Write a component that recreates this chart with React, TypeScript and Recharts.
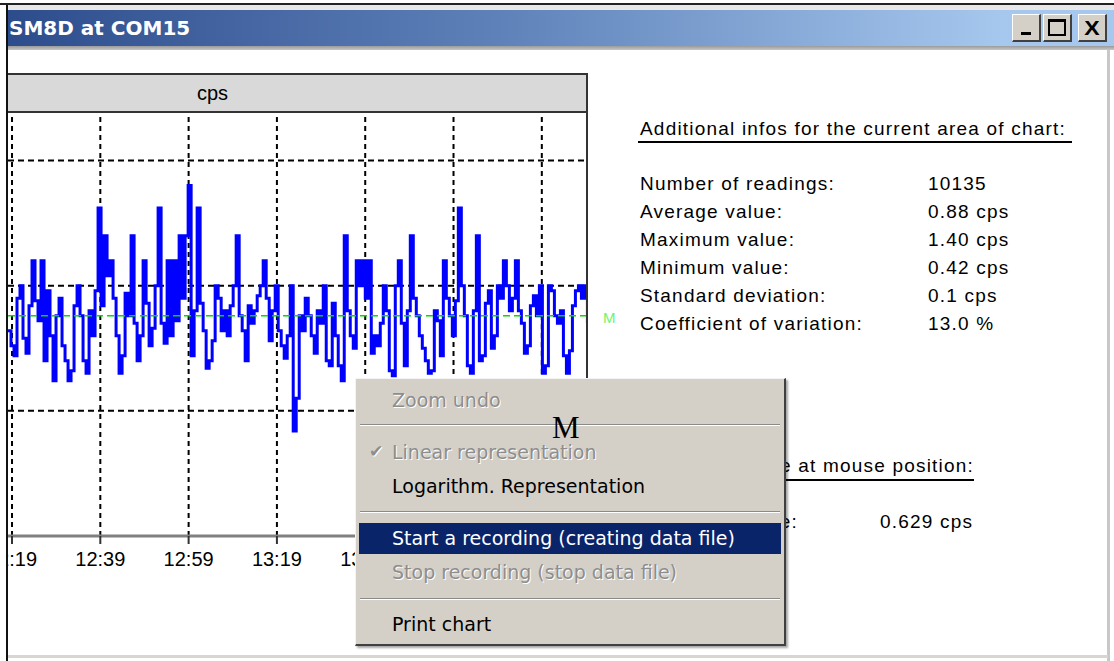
import React from "react";
import { LineChart, Line, XAxis, YAxis, ReferenceLine } from "recharts";

// readings (cps) left to right, one every ~0.68 min
const readingsA = [0.82, 0.76, 0.72, 0.95, 1.0, 0.79, 0.73, 0.92, 1.1, 0.94, 0.86, 1.1, 0.7, 0.98, 0.8, 0.62, 0.88, 0.95, 0.76, 0.7, 0.62, 0.66, 0.92, 1.0, 0.88, 0.7, 0.65, 0.9, 0.8, 0.98, 1.31, 0.92, 1.2, 1.04, 1.1, 0.95, 0.8, 0.65, 0.72, 0.97, 0.88, 1.2, 0.85, 0.7, 0.8, 1.1, 0.93, 0.76, 0.83, 1.0];
const readingsB = [1.31, 0.85, 0.77, 1.1, 0.8, 1.1, 0.86, 1.2, 0.95, 1.2, 1.4, 0.72, 0.9, 1.31, 0.93, 0.82, 0.67, 0.7, 0.78, 1.0, 0.95, 0.82, 0.9, 0.8, 0.92, 1.0, 1.2, 0.88, 0.82, 0.7, 0.92, 0.85, 0.9, 0.96, 1.0, 1.1, 0.95, 0.78, 0.9, 1.0, 0.82, 0.76, 0.71, 0.8, 1.0, 0.42, 0.55, 0.88, 0.82];
const readingsC = [0.95, 0.88, 0.8, 0.73, 0.9, 0.85, 1.0, 0.7, 0.68, 0.93, 0.8, 0.68, 0.62, 1.2, 0.9, 0.8, 0.75, 1.1, 1.0, 1.1, 0.95, 1.1, 0.73, 0.8, 0.76, 0.85, 1.0, 0.9, 0.66, 0.64, 1.0, 1.1, 0.85, 0.68, 0.9, 1.2, 0.95, 0.88, 0.8, 0.75, 0.7, 0.65, 0.66, 0.9, 0.86, 0.72, 1.1, 0.95, 0.88];
const readingsD = [0.8, 0.94, 1.31, 1.0, 0.88, 0.68, 0.65, 0.9, 1.2, 0.7, 0.72, 0.93, 0.98, 0.75, 0.8, 1.0, 0.95, 1.1, 1.0, 0.9, 0.95, 1.1, 0.9, 0.85, 0.73, 0.76, 0.92, 0.96, 0.88, 1.0, 0.65, 0.68, 1.0, 0.98, 0.88, 0.85, 0.9, 0.72, 0.65, 0.74, 0.92, 0.98, 1.0, 0.95, 1.0, 0.85];

const readingStart = 18.09; // minutes after 12:00
const readingStep = 0.68;
const meanValue = 0.88;

const timeTicks = [19, 39, 59, 79, 99, 119, 139];
const tickLabels = ["12:19", "12:39", "12:59", "13:19", "13:39", "13:59", "14:19"];
const gridValues = [0.5, 1.0, 1.5];

const infoLabels = ["Number of readings:", "Average value:", "Maximum value:", "Minimum value:", "Standard deviation:", "Coefficient of variation:"];
const infoValues = ["10135", "0.88 cps", "1.40 cps", "0.42 cps", "0.1 cps", "13.0 %"];

const allReadings = [...readingsA, ...readingsB, ...readingsC, ...readingsD];
const chartData = allReadings.map((v, i) => ({ t: readingStart + i * readingStep, cps: v }));

const sans = "'Liberation Sans', Arial, sans-serif";
const menuFont = "'DejaVu Sans', Tahoma, sans-serif";

const abs = (s: React.CSSProperties): React.CSSProperties => ({ position: "absolute", ...s });

const panelText: React.CSSProperties = { fontSize: 19, letterSpacing: 1.2, color: "#000", whiteSpace: "nowrap", lineHeight: "22px" };

const MenuItem = ({ y, text, disabled }: { y: number; text: string; disabled?: boolean }) => (
  <div
    style={abs({
      left: 36,
      top: y - 12,
      fontFamily: menuFont,
      fontSize: 19,
      lineHeight: "24px",
      color: disabled ? "#8d8d8d" : "#000",
      textShadow: disabled ? "1px 1px 0 #fff" : "none",
      whiteSpace: "nowrap",
    })}
  >
    {text}
  </div>
);

const Separator = ({ y }: { y: number }) => (
  <div style={abs({ left: 4, right: 4, top: y, height: 1, background: "#8a8a8a", borderBottom: "1px solid #fff" })} />
);

const WinButton = ({ left, children }: { left: number; children: React.ReactNode }) => (
  <div
    style={abs({
      left,
      top: 14,
      width: 29,
      height: 28,
      background: "#d4d0c8",
      borderTop: "1px solid #fff",
      borderLeft: "1px solid #fff",
      borderRight: "2px solid #404040",
      borderBottom: "2px solid #404040",
      boxSizing: "border-box",
      display: "flex",
      alignItems: "center",
      justifyContent: "center",
      fontFamily: sans,
      fontSize: 21,
      color: "#000",
    })}
  >
    {children}
  </div>
);

export default function App() {
  const y0 = 113;
  return (
    <div style={abs({ left: 0, top: 0, width: 1114, height: 661, background: "#fff", overflow: "hidden", fontFamily: sans })}>
      {/* window frame */}
      <div style={abs({ left: 0, top: 3, width: 1114, height: 2, background: "#222" })} />
      <div style={abs({ left: 8, top: 5, width: 1106, height: 5, background: "#e8e8e8" })} />
      <div
        style={abs({
          left: 8,
          top: 10,
          width: 1106,
          height: 36,
          background: "linear-gradient(to right, #2d4c8c 0%, #5f82ba 45%, #a6c8ee 90%)",
        })}
      />
      <div style={abs({ left: 9, top: 16, color: "#fff", fontFamily: "'DejaVu Sans', sans-serif", fontWeight: "bold", fontSize: 20 })}>
        SM8D at COM15
      </div>
      <WinButton left={1012}>
        <div style={{ width: 10, height: 3, background: "#000", marginTop: 12 }} />
      </WinButton>
      <WinButton left={1043}>
        <div style={{ width: 14, height: 12, border: "2px solid #000", borderTopWidth: 3 }} />
      </WinButton>
      <WinButton left={1078}>
        <span style={{ fontWeight: "bold", transform: "scaleX(1.1)" }}>X</span>
      </WinButton>
      <div style={abs({ left: 8, top: 46, width: 1106, height: 4, background: "linear-gradient(#9a9a9a, #c8c8c8)" })} />
      <div style={abs({ left: 1107, top: 50, width: 3, height: 611, background: "#c8c8c8" })} />
      <div style={abs({ left: 8, top: 655, width: 1100, height: 3, background: "#d8d6d0" })} />

      {/* chart header */}
      <div
        style={abs({
          left: 8,
          top: 73,
          width: 580,
          height: 40,
          background: "#d9d9d9",
          borderTop: "2px solid #333",
          borderBottom: "2px solid #333",
          boxSizing: "border-box",
        })}
      />
      <div style={abs({ left: 197, top: 82, fontSize: 20, color: "#000" })}>cps</div>

      <div style={abs({ left: 8, top: y0 })}>
        <LineChart width={580} height={462} data={chartData} margin={{ top: 0, right: 0, left: 0, bottom: 0 }}>
          <XAxis
            dataKey="t"
            type="number"
            domain={[18.09, 149.46]}
            ticks={timeTicks}
            tickFormatter={(v: number) => tickLabels[timeTicks.indexOf(v)]}
            height={39}
            axisLine={{ stroke: "#808080", strokeWidth: 3 }}
            tickLine={{ stroke: "#333", strokeWidth: 2 }}
            tickSize={8}
            tickMargin={8}
            tick={{ fill: "#000", fontSize: 20, fontFamily: sans }}
            interval={0}
            allowDataOverflow
          />
          <YAxis hide type="number" domain={[0, 1.69]} allowDataOverflow />
          {timeTicks.map((t) => (
            <ReferenceLine key={"v" + t} x={t} stroke="#000" strokeWidth={2} strokeDasharray="5 4" />
          ))}
          {gridValues.map((g) => (
            <ReferenceLine key={"h" + g} y={g} stroke="#000" strokeWidth={2} strokeDasharray="6 4" />
          ))}
          <Line
            type="stepAfter"
            dataKey="cps"
            stroke="#0000ff"
            strokeWidth={3}
            dot={false}
            isAnimationActive={false}
          />
          <ReferenceLine y={meanValue} stroke="#00dd00" strokeWidth={1.5} strokeDasharray="7 4" />
        </LineChart>
      </div>
      <div style={abs({ left: 586, top: 73, width: 2, height: 463, background: "#333" })} />
      <div style={abs({ left: 603, top: 309, fontSize: 15, color: "#6cf56c" })}>M</div>

      {/* left frame edge */}
      <div style={abs({ left: 0, top: 5, width: 6, height: 656, background: "#fff" })} />
      <div style={abs({ left: 6, top: 5, width: 2, height: 656, background: "#111" })} />

      {/* info panel */}
      <div style={abs({ left: 640, top: 118, ...panelText })}>Additional infos for the current area of chart:</div>
      <div style={abs({ left: 638, top: 141, width: 434, height: 2, background: "#000" })} />
      {infoLabels.map((label, i) => (
        <React.Fragment key={label}>
          <div style={abs({ left: 640, top: 173 + i * 28, ...panelText })}>{label}</div>
          <div style={abs({ left: 928, top: 173 + i * 28, ...panelText })}>{infoValues[i]}</div>
        </React.Fragment>
      ))}
      <div style={abs({ right: 1114 - 974, top: 455, ...panelText })}>Value at mouse position:</div>
      <div style={abs({ left: 640, top: 479, width: 334, height: 2, background: "#000" })} />
      <div style={abs({ right: 1114 - 798, top: 511, ...panelText })}>Value:</div>
      <div style={abs({ left: 880, top: 511, ...panelText })}>0.629 cps</div>

      {/* context menu */}
      <div
        style={abs({
          left: 355,
          top: 378,
          width: 431,
          height: 268,
          background: "#d4d0c8",
          borderTop: "1px solid #f4f4f4",
          borderLeft: "1px solid #f4f4f4",
          borderRight: "2px solid #404040",
          borderBottom: "2px solid #404040",
          boxSizing: "border-box",
          boxShadow: "2px 2px 2px rgba(0,0,0,0.35)",
        })}
      >
        <MenuItem y={21} text="Zoom undo" disabled />
        <Separator y={45} />
        <div style={abs({ left: 13, top: 62, fontSize: 17, color: "#8d8d8d", textShadow: "1px 1px 0 #fff", fontFamily: menuFont })}>✔</div>
        <MenuItem y={73} text="Linear representation" disabled />
        <MenuItem y={107} text="Logarithm. Representation" />
        <Separator y={132} />
        <div style={abs({ left: 3, top: 144, width: 422, height: 31, background: "#0a246a" })} />
        <div
          style={abs({
            left: 36,
            top: 147,
            fontFamily: menuFont,
            fontSize: 19,
            lineHeight: "24px",
            color: "#fff",
            whiteSpace: "nowrap",
          })}
        >
          Start a recording (creating data file)
        </div>
        <MenuItem y={193} text="Stop recording (stop data file)" disabled />
        <Separator y={219} />
        <MenuItem y={245} text="Print chart" />
      </div>
      <div style={abs({ left: 552, top: 410, fontFamily: "'Liberation Serif', 'Times New Roman', serif", fontSize: 31, color: "#000" })}>
        M
      </div>
    </div>
  );
}
